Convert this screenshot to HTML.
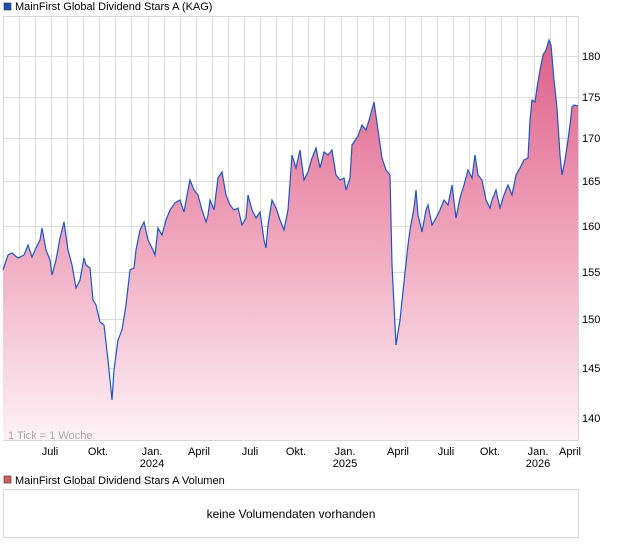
<!DOCTYPE html>
<html><head><meta charset="utf-8"><style>
body{margin:0;background:#fff;font-family:"Liberation Sans",sans-serif;}
svg{display:block}
</style></head><body>
<svg width="620" height="546" xmlns="http://www.w3.org/2000/svg" font-family="Liberation Sans, sans-serif">
<defs>
<linearGradient id="g" x1="0" y1="0" x2="0" y2="1">
<stop offset="0" stop-color="#dd5f88"/>
<stop offset="0.45" stop-color="#ee9fb8"/>
<stop offset="1" stop-color="#fdf2f6"/>
</linearGradient>
</defs>
<rect x="4" y="3" width="7" height="7" fill="#1a4fbf" stroke="#333" stroke-width="0.6"/>
<text x="15" y="10" font-size="11" fill="#000">MainFirst Global Dividend Stars A (KAG)</text>
<rect x="3.5" y="16.5" width="575" height="424" fill="#fff" stroke="#d8d8d8"/>
<g stroke="#dcdcdc" stroke-width="1">
<path d="M19.5 17V440M35.5 17V440M51.5 17V440M67.5 17V440M83.5 17V440M99.5 17V440M115.5 17V440M131.5 17V440M148.5 17V440M164.5 17V440M180.5 17V440M196.5 17V440M212.5 17V440M228.5 17V440M244.5 17V440M260.5 17V440M276.5 17V440M292.5 17V440M308.5 17V440M324.5 17V440M341.5 17V440M357.5 17V440M373.5 17V440M389.5 17V440M405.5 17V440M421.5 17V440M437.5 17V440M453.5 17V440M469.5 17V440M485.5 17V440M501.5 17V440M517.5 17V440M534.5 17V440M550.5 17V440M566.5 17V440"/>
<path d="M4 56.5H578M4 97.5H578M4 138.5H578M4 181.5H578M4 226.5H578M4 272.5H578M4 319.5H578M4 368.5H578M4 418.5H578"/>
</g>
<path id="d" fill="url(#g)" stroke="none" d="M3 270L8 255L12 253L18 258L24 255L28 245L32 257L36 248L40 240L42 228L46 250L50 260L52 275L56 260L60 238L64 222L68 250L72 265L76 288L80 280L84 258L86 265L90 268L93 300L96 305L100 322L104 325L108 360L112 400L114 370L118 340L122 330L126 305L130 270L134 268L136 250L140 230L144 222L148 240L152 248L155 255L158 228L162 235L166 220L170 210L175 203L180 200L184 212L188 190L190 180L194 190L198 195L202 210L206 222L208 215L210 200L214 210L218 178L222 172L226 195L230 205L234 210L238 208L242 225L246 218L248 195L252 210L256 218L260 212L264 240L266 248L268 225L272 200L276 208L280 220L284 230L288 210L292 155L296 168L300 150L304 180L308 172L312 158L316 148L320 168L324 152L328 155L332 150L336 175L340 180L344 178L346 190L350 178L352 145L358 136L362 125L366 130L370 117L374 102L378 130L382 158L386 170L390 175L392 265L396 345L400 320L404 282L408 245L410 230L414 208L416 190L418 215L422 232L426 210L428 205L432 225L436 218L440 210L444 200L448 205L452 185L456 218L460 198L464 185L468 170L472 178L475 155L478 175L482 180L486 200L490 208L492 200L496 190L500 208L504 195L508 185L512 195L516 175L520 168L524 160L528 158L530 120L532 100L535 102L537 88L540 70L543 55L546 50L549 40L551 45L554 80L557 108L560 155L562 175L565 160L568 140L570 125L572 107L574 105L578 106L578 440L3 440Z"/>
<path fill="none" stroke="#1d55c8" stroke-width="1.2" d="M3 270L8 255L12 253L18 258L24 255L28 245L32 257L36 248L40 240L42 228L46 250L50 260L52 275L56 260L60 238L64 222L68 250L72 265L76 288L80 280L84 258L86 265L90 268L93 300L96 305L100 322L104 325L108 360L112 400L114 370L118 340L122 330L126 305L130 270L134 268L136 250L140 230L144 222L148 240L152 248L155 255L158 228L162 235L166 220L170 210L175 203L180 200L184 212L188 190L190 180L194 190L198 195L202 210L206 222L208 215L210 200L214 210L218 178L222 172L226 195L230 205L234 210L238 208L242 225L246 218L248 195L252 210L256 218L260 212L264 240L266 248L268 225L272 200L276 208L280 220L284 230L288 210L292 155L296 168L300 150L304 180L308 172L312 158L316 148L320 168L324 152L328 155L332 150L336 175L340 180L344 178L346 190L350 178L352 145L358 136L362 125L366 130L370 117L374 102L378 130L382 158L386 170L390 175L392 265L396 345L400 320L404 282L408 245L410 230L414 208L416 190L418 215L422 232L426 210L428 205L432 225L436 218L440 210L444 200L448 205L452 185L456 218L460 198L464 185L468 170L472 178L475 155L478 175L482 180L486 200L490 208L492 200L496 190L500 208L504 195L508 185L512 195L516 175L520 168L524 160L528 158L530 120L532 100L535 102L537 88L540 70L543 55L546 50L549 40L551 45L554 80L557 108L560 155L562 175L565 160L568 140L570 125L572 107L574 105L578 106"/>
<g font-size="11" fill="#000">
<text x="582" y="60">180</text><text x="582" y="101">175</text><text x="582" y="142">170</text><text x="582" y="185">165</text><text x="582" y="230">160</text><text x="582" y="276">155</text><text x="582" y="323">150</text><text x="582" y="372">145</text><text x="582" y="422">140</text>
</g>
<text x="8" y="439" font-size="11" fill="#aaa">1 Tick = 1 Woche</text>
<g font-size="11" fill="#000" text-anchor="middle">
<text x="50" y="455">Juli</text><text x="98" y="455">Okt.</text><text x="152" y="455">Jan.</text><text x="152" y="467">2024</text><text x="199" y="455">April</text><text x="250" y="455">Juli</text><text x="296" y="455">Okt.</text><text x="345" y="455">Jan.</text><text x="345" y="467">2025</text><text x="398" y="455">April</text><text x="446" y="455">Juli</text><text x="490" y="455">Okt.</text><text x="538" y="455">Jan.</text><text x="538" y="467">2026</text><text x="570" y="455">April</text>
</g>
<rect x="4" y="476" width="7" height="7" fill="#d06060" stroke="#333" stroke-width="0.6"/>
<text x="15" y="484" font-size="11" fill="#000">MainFirst Global Dividend Stars A Volumen</text>
<rect x="3.5" y="489.5" width="575" height="48" fill="#fff" stroke="#d8d8d8"/>
<text x="291" y="518" font-size="12" fill="#000" text-anchor="middle">keine Volumendaten vorhanden</text>
</svg>
</body></html>
